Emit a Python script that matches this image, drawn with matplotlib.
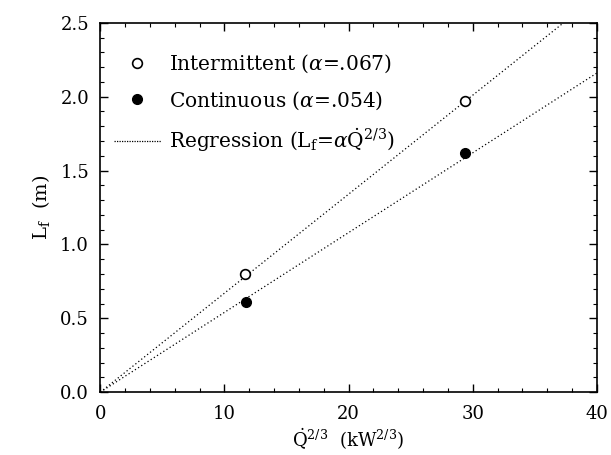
import numpy as np
import matplotlib
matplotlib.use("Agg")
import matplotlib.pyplot as plt
from matplotlib.lines import Line2D
from matplotlib.ticker import MultipleLocator, FormatStrFormatter

plt.rcParams["font.family"] = "DejaVu Serif"
plt.rcParams["mathtext.fontset"] = "dejavuserif"

# measured flame heights vs Q^(2/3)
q23_int = [11.65, 29.35]
lf_int = [0.80, 1.97]
q23_cont = [11.7, 29.4]
lf_cont = [0.61, 1.62]

alpha_int = 0.067
alpha_cont = 0.054

x_fit = np.linspace(0, 40, 200)

fig = plt.figure(figsize=(6.11, 4.55), dpi=100)
ax = fig.add_axes([0.164, 0.138, 0.813, 0.812])

ax.plot(x_fit, alpha_int * x_fit, color="black", linestyle=(0, (1, 2)), lw=0.9)
ax.plot(x_fit, alpha_cont * x_fit, color="black", linestyle=(0, (1, 2)), lw=0.9)
ax.plot(q23_int, lf_int, "o", mfc="white", mec="black", mew=1.2, ms=7)
ax.plot(q23_cont, lf_cont, "o", mfc="black", mec="black", ms=7)

ax.set_xlim(0, 40)
ax.set_ylim(0, 2.5)
ax.xaxis.set_major_locator(MultipleLocator(10))
ax.xaxis.set_minor_locator(MultipleLocator(2))
ax.yaxis.set_major_locator(MultipleLocator(0.5))
ax.yaxis.set_minor_locator(MultipleLocator(0.1))
ax.yaxis.set_major_formatter(FormatStrFormatter("%.1f"))
ax.tick_params(which="both", direction="in", top=True, right=True, labelsize=13)
ax.tick_params(axis="x", pad=9)
ax.tick_params(axis="y", pad=8)
ax.tick_params(which="major", length=6, width=1)
ax.tick_params(which="minor", length=3, width=0.8)
for s in ax.spines.values():
    s.set_linewidth(1.2)

ax.set_xlabel(r"$\dot{\mathrm{Q}}^{2/3}$  (kW$^{2/3}$)", fontsize=13, labelpad=3)
ax.set_ylabel(r"L$_\mathrm{f}$  (m)", fontsize=14, labelpad=6)

handles = [
    Line2D([], [], marker="o", linestyle="none", mfc="white", mec="black", mew=1.2, ms=7),
    Line2D([], [], marker="o", linestyle="none", mfc="black", mec="black", ms=7),
    Line2D([], [], color="black", linestyle=(0, (1, 1)), lw=0.9),
]
labels = [
    r"Intermittent ($\alpha$=.067)",
    r"Continuous ($\alpha$=.054)",
    r"Regression (L$_\mathrm{f}$=$\alpha\dot{\mathrm{Q}}^{2/3}$)",
]
ax.legend(handles, labels, loc="upper left", bbox_to_anchor=(0.0, 0.958),
          frameon=False, fontsize=14.5, handlelength=2.3, handletextpad=0.4,
          labelspacing=0.72, borderaxespad=0.3)

fig.savefig("out.png", dpi=100)
